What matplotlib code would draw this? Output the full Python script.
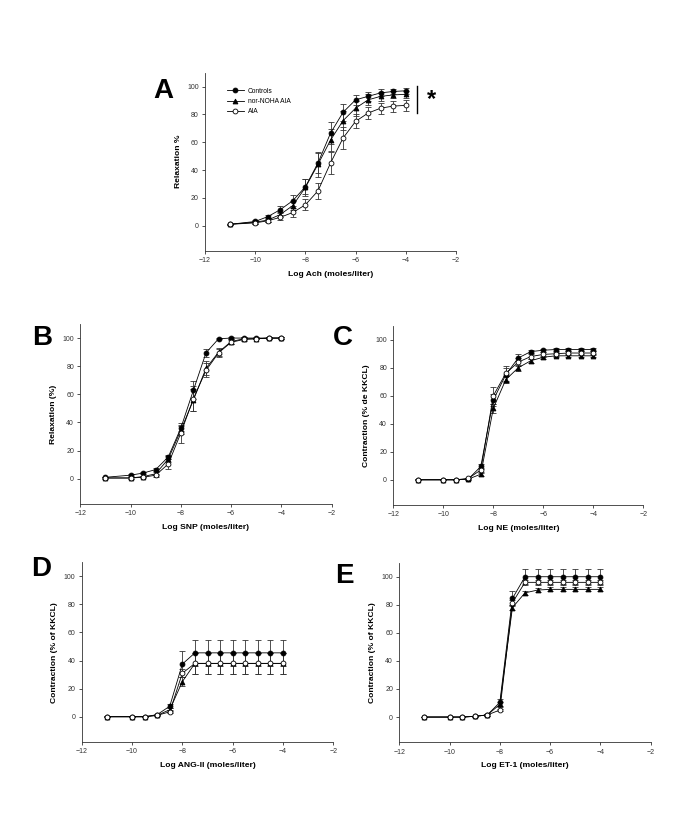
import numpy as np
import matplotlib
matplotlib.use("Agg")
import matplotlib.pyplot as plt

plt.rcParams['font.family'] = ['Liberation Sans', 'DejaVu Sans']

# log concentrations, same for every panel
logc = [-11, -10, -9.5, -9, -8.5, -8, -7.5, -7, -6.5, -6, -5.5, -5, -4.5, -4]

# Panel A - Ach
a_ctrl = [1, 3, 6.5, 11.5, 18, 28, 45, 66.5, 81.5, 90.5, 93, 95.5, 96.5, 97]
a_ctrl_err = [0.5, 1, 1.5, 2.5, 4, 5.5, 7, 8, 6, 3.5, 3, 2.5, 2, 2]
a_nor = [1, 2.5, 4, 8, 14.5, 27.5, 44, 61.5, 75.5, 84.5, 90.5, 93, 94, 94.5]
a_nor_err = [0.5, 1, 1.5, 2, 3, 6, 9, 8, 7, 5.5, 4, 3, 2.5, 2.5]
a_aia = [1, 2, 3.5, 6, 9.5, 15, 25, 45, 63, 75, 81, 84.5, 86, 86.5]
a_aia_err = [0.5, 1, 1, 2, 3, 4, 5.5, 8, 8, 5, 4.5, 4, 4, 4]

# Panel B - SNP
b_ctrl = [1, 2.5, 4, 6.5, 15.5, 36, 63, 89.5, 99.5, 100, 100, 100, 100, 100]
b_ctrl_err = [0.5, 0.5, 1, 1, 1.5, 2, 6.5, 3, 0.5, 0.5, 0.5, 0.5, 0.5, 0.5]
b_nor = [0.5, 0.5, 1.5, 3.5, 14, 34.5, 56, 78.5, 90, 97.5, 99.5, 99.5, 100, 100]
b_nor_err = [0.5, 0.5, 0.5, 1, 2, 3, 8, 5, 3, 1.5, 1, 0.5, 0.5, 0.5]
b_aia = [0.5, 0.5, 1, 2.5, 10.5, 32.5, 57, 77, 89.5, 97, 99, 99.5, 100, 100]
b_aia_err = [0.5, 0.5, 0.5, 1, 3.5, 7, 9, 5, 3, 1.5, 1, 0.5, 0.5, 0.5]

# Panel C - NE
c_ctrl = [0, 0, 0, 0.5, 9.5, 57, 75, 87, 91.5, 92.5, 93, 93, 93, 93]
c_ctrl_err = [0.3, 0.3, 0.3, 0.5, 1.5, 4, 5, 2.5, 1, 1, 1, 1, 1, 1]
c_nor = [0, 0, 0, 0.5, 4, 51, 71.5, 80, 85, 87.5, 88.5, 88.5, 88.5, 88.5]
c_nor_err = [0.3, 0.3, 0.3, 0.5, 1, 3, 2.5, 2, 1.5, 1, 1, 1, 1, 1]
c_aia = [0, 0, 0, 1, 7, 60, 76, 84, 88, 89.5, 90, 90.5, 90.5, 90.5]
c_aia_err = [0.3, 0.3, 0.3, 0.5, 1.5, 6, 5.5, 3, 2, 1.5, 1.5, 1.5, 1.5, 1.5]

# Panel D - ANG-II
d_ctrl = [0, 0, 0, 1.5, 7.5, 37.5, 45.5, 45.5, 45.5, 45.5, 45.5, 45.5, 45.5, 45.5]
d_ctrl_err = [0.3, 0.3, 0.3, 0.5, 1.5, 9.5, 9.5, 9.5, 9.5, 9.5, 9.5, 9.5, 9.5, 9.5]
d_nor = [0, 0, 0, 1, 5, 25, 38, 38, 38, 38, 38, 38, 38, 38]
d_nor_err = [0.3, 0.3, 0.3, 0.5, 1, 3, 7.5, 7.5, 7.5, 7.5, 7.5, 7.5, 7.5, 7.5]
d_aia = [0, 0, 0, 1, 3.5, 31, 38, 38, 38, 38, 38, 38, 38, 38]
d_aia_err = [0.3, 0.3, 0.3, 0.5, 1, 3, 7.5, 7.5, 7.5, 7.5, 7.5, 7.5, 7.5, 7.5]

# Panel E - ET-1
e_ctrl = [0, 0, 0, 0.5, 1.5, 10.5, 84.5, 100, 100, 100, 100, 100, 100, 100]
e_ctrl_err = [0.3, 0.3, 0.3, 0.5, 0.5, 2.5, 5.5, 5.5, 5.5, 5.5, 5.5, 5.5, 5.5, 5.5]
e_nor = [0, 0, 0, 0.5, 1.5, 9, 78, 88.5, 90.5, 91, 91, 91, 91, 91]
e_nor_err = [0.3, 0.3, 0.3, 0.5, 0.5, 2, 2, 1.5, 1.5, 1.5, 1.5, 1.5, 1.5, 1.5]
e_aia = [0, 0, 0, 0.5, 1.5, 5, 81.5, 96, 96, 96, 96, 96, 96, 96]
e_aia_err = [0.3, 0.3, 0.3, 0.5, 0.5, 1, 2, 2, 2, 2, 2, 2, 2, 2]

labels = ["Controls", "nor-NOHA AIA", "AIA"]

W, H = 685, 827


def px_axes(fig, left, right, bottom, top):
    # pixel box -> figure fraction
    return fig.add_axes([left / W, 1 - bottom / H, (right - left) / W, (bottom - top) / H])


def panel(ax, series, xlabel, ylabel):
    styles = [dict(marker='o', mfc='black', mec='black'),
              dict(marker='^', mfc='black', mec='black'),
              dict(marker='o', mfc='white', mec='black')]
    lines = []
    for (y, err), st, lab in zip(series, styles, labels):
        ax.errorbar(logc, y, yerr=err, fmt='none', ecolor='#333333',
                    elinewidth=0.6, capsize=2, capthick=0.6, zorder=2)
        ln, = ax.plot(logc, y, color='black', lw=0.6, ms=3.5, mew=0.6,
                      label=lab, zorder=3, **st)
        lines.append(ln)
    ax.set_xlim(-12, -2)
    ax.set_ylim(-18, 110)
    ax.set_xticks(np.arange(-12, -1, 2))
    ax.set_yticks(np.arange(0, 101, 20))
    for s in ['top', 'right']:
        ax.spines[s].set_visible(False)
    for s in ['left', 'bottom']:
        ax.spines[s].set_linewidth(0.6)
        ax.spines[s].set_color('#333333')
    ax.tick_params(length=2.5, width=0.6, labelsize=5, colors='#333333',
                   pad=2)
    ax.set_xlabel(xlabel, fontsize=6.1, fontweight='bold', labelpad=5)
    ax.set_ylabel(ylabel, fontsize=6.1, fontweight='bold', labelpad=4)
    return lines


def main():
    fig = plt.figure(figsize=(6.85, 8.27), dpi=100)

    axA = px_axes(fig, 205, 456, 250.7, 72.7)
    axB = px_axes(fig, 80.3, 331.7, 504, 324)
    axC = px_axes(fig, 393.3, 643.3, 505, 325.7)
    axD = px_axes(fig, 81.7, 333.3, 742, 562.3)
    axE = px_axes(fig, 399.3, 650.7, 742.3, 562.7)

    panel(axA, [(a_ctrl, a_ctrl_err), (a_nor, a_nor_err), (a_aia, a_aia_err)],
          "Log Ach (moles/liter)", "Relaxation %")
    panel(axB, [(b_ctrl, b_ctrl_err), (b_nor, b_nor_err), (b_aia, b_aia_err)],
          "Log SNP (moles/liter)", "Relaxation (%)")
    panel(axC, [(c_ctrl, c_ctrl_err), (c_nor, c_nor_err), (c_aia, c_aia_err)],
          "Log NE (moles/liter)", "Contraction (% de KKCL)")
    panel(axD, [(d_ctrl, d_ctrl_err), (d_nor, d_nor_err), (d_aia, d_aia_err)],
          "Log ANG-II (moles/liter)", "Contraction (% of KKCL)")
    panel(axE, [(e_ctrl, e_ctrl_err), (e_nor, e_nor_err), (e_aia, e_aia_err)],
          "Log ET-1 (moles/liter)", "Contraction (% of KKCL)")

    # legend only in A
    axA.legend(loc='upper left', bbox_to_anchor=(0.0865, 0.915), frameon=False,
               fontsize=4.8, handlelength=2.6, handletextpad=0.55,
               labelspacing=0.5, borderpad=0, borderaxespad=0)

    # significance bar and asterisk in A
    axA.plot([-3.55, -3.55], [81, 100.5], color='black', lw=1.0, clip_on=False)
    fig.text(431.7 / W, 1 - 99.5 / H, "*", fontsize=17, fontweight='bold',
             ha='center', va='center')

    # panel letters
    for lab, (x, y) in zip("ABCDE", [(163.5, 90.7), (41.7, 338), (343, 338),
                                      (41.3, 569.5), (344, 576)]):
        fig.text(x / W, 1 - y / H, lab, fontsize=20, fontweight='bold',
                 ha='center', va='center')

    fig.savefig("out.png", dpi=100)


if __name__ == "__main__":
    main()
